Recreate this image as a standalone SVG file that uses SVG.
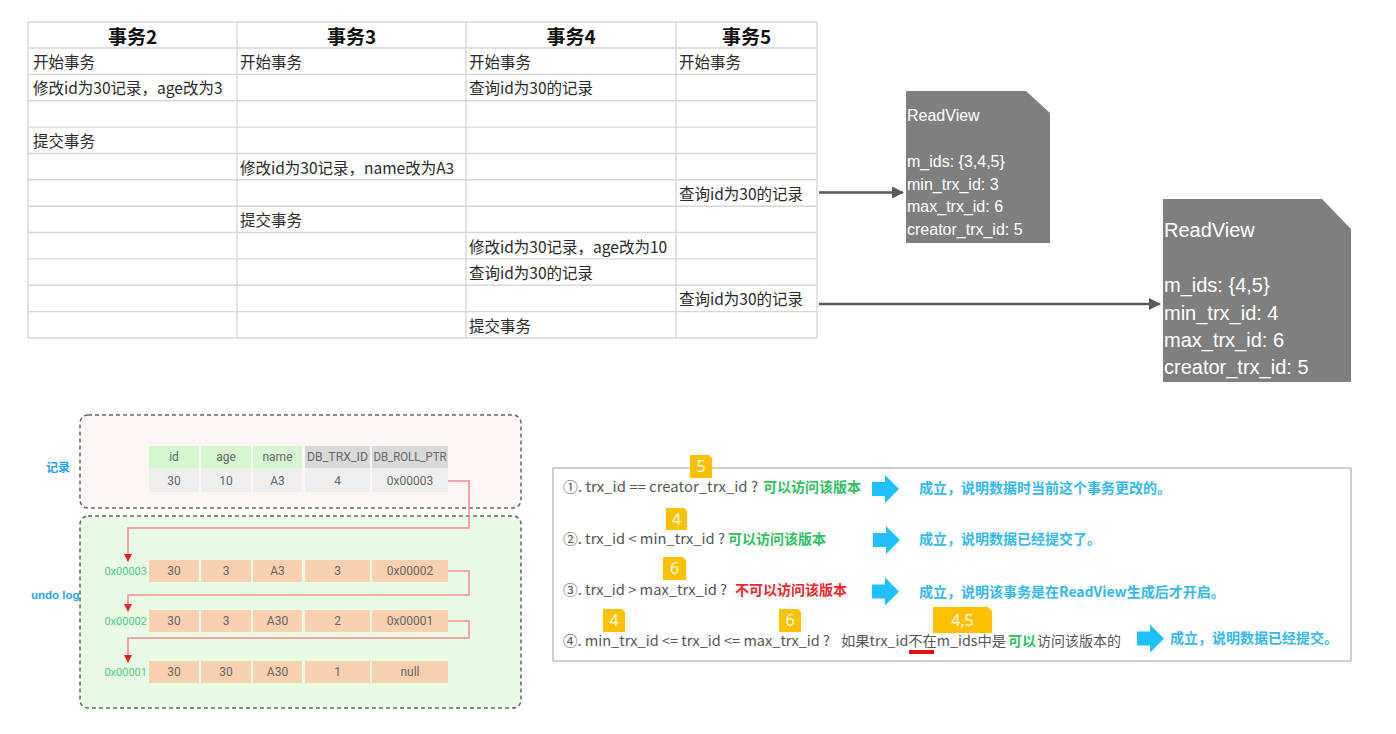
<svg xmlns="http://www.w3.org/2000/svg" width="1396" height="734" viewBox="0 0 1396 734">
<style>
.grid{stroke:#d6d6d6;stroke-width:1.4;fill:none}
.th{font-family:"Noto Sans CJK SC","Liberation Sans",sans-serif;font-size:19px;font-weight:bold;fill:#111;text-anchor:middle}
.td{font-family:"Noto Sans CJK SC","Liberation Sans",sans-serif;font-size:15.5px;fill:#2a2a2a}
.rv{fill:#7f7f7f}
.rvt{font-family:"Liberation Sans",sans-serif;fill:#fff}
.dash{stroke:#666;stroke-width:1.5;stroke-dasharray:4 3}
.cell{font-family:"Roboto","Liberation Sans",sans-serif;font-size:12px;fill:#666;text-anchor:middle}
.addr{font-family:"Roboto","Liberation Sans",sans-serif;font-size:11px;fill:#4ccf7e;text-anchor:end}
.lbl{font-family:"Liberation Sans","Noto Sans CJK SC",sans-serif;font-weight:bold;fill:#1ea4ef}
.hg{fill:#d6f6d0}.hx{fill:#d9d9d9}.rd{fill:#efefef}.ud{fill:#f9d0b0}
.ptr{stroke:#f28b8b;stroke-width:1.5;fill:none}
.rule{font-family:"Noto Sans CJK SC","Open Sans",sans-serif;font-size:14px;fill:#555}
.ok{fill:#2fbf5f;font-weight:bold}
.no{fill:#f0262a;font-weight:bold}
.res{font-family:"Noto Sans CJK SC","Open Sans",sans-serif;font-size:14px;fill:#33b8f2;font-weight:bold}
.barrow{fill:#1ec0ff}
.badge{fill:#ffc000}
.bt{font-family:"Open Sans","Liberation Sans",sans-serif;font-size:16px;fill:#fff;text-anchor:middle}
.conn{stroke:#595959;stroke-width:2.5;fill:none}
</style>
<defs>
<marker id="ah" markerUnits="userSpaceOnUse" markerWidth="12" markerHeight="12" refX="11" refY="6" orient="auto">
<path d="M0,0 L12,6 L0,12 Z" fill="#595959"/>
</marker>
<marker id="rh" markerUnits="userSpaceOnUse" markerWidth="8" markerHeight="8" refX="7" refY="4" orient="auto">
<path d="M0,0 L8,4 L0,8 Z" fill="#e8262a"/>
</marker>
</defs>
<rect width="1396" height="734" fill="#fff"/>

<g id="table">
<path class="grid" d="M28,22H817M28,48H817M28,74.4H817M28,100.7H817M28,127.1H817M28,153.5H817M28,179.8H817M28,206.2H817M28,232.5H817M28,258.9H817M28,285.3H817M28,311.6H817M28,338H817M28,22V338M237,22V338M466,22V338M676,22V338M817,22V338"/>
<text class="th" x="132.5" y="44">事务2</text>
<text class="th" x="351.5" y="44">事务3</text>
<text class="th" x="571" y="44">事务4</text>
<text class="th" x="746.5" y="44">事务5</text>
<text class="td" x="33" y="68">开始事务</text>
<text class="td" x="240" y="68">开始事务</text>
<text class="td" x="469" y="68">开始事务</text>
<text class="td" x="679" y="68">开始事务</text>
<text class="td" x="33" y="94.4">修改id为30记录，age改为3</text>
<text class="td" x="469" y="94.4">查询id为30的记录</text>
<text class="td" x="33" y="147.1">提交事务</text>
<text class="td" x="240" y="173.5">修改id为30记录，name改为A3</text>
<text class="td" x="679" y="199.8">查询id为30的记录</text>
<text class="td" x="240" y="226.2">提交事务</text>
<text class="td" x="469" y="252.5">修改id为30记录，age改为10</text>
<text class="td" x="469" y="278.9">查询id为30的记录</text>
<text class="td" x="679" y="305.3">查询id为30的记录</text>
<text class="td" x="469" y="331.6">提交事务</text>
</g>

<g id="readview1">
<path class="rv" d="M906,91H1026L1050,113V243H906Z"/>
<text class="rvt" font-size="16" x="907" y="121">ReadView</text>
<text class="rvt" font-size="16" x="907" y="167">m_ids: {3,4,5}</text>
<text class="rvt" font-size="16" x="907" y="189.5">min_trx_id: 3</text>
<text class="rvt" font-size="16" x="907" y="212">max_trx_id: 6</text>
<text class="rvt" font-size="16" x="907" y="234.5">creator_trx_id: 5</text>
</g>

<g id="readview2">
<path class="rv" d="M1163,199H1322L1351,229V382H1163Z"/>
<text class="rvt" font-size="20" x="1164" y="237">ReadView</text>
<text class="rvt" font-size="20" x="1164" y="292">m_ids: {4,5}</text>
<text class="rvt" font-size="20" x="1164" y="319.5">min_trx_id: 4</text>
<text class="rvt" font-size="20" x="1164" y="347">max_trx_id: 6</text>
<text class="rvt" font-size="20" x="1164" y="374">creator_trx_id: 5</text>
</g>

<g id="record">
<rect class="dash" x="80" y="415" width="441" height="93" rx="8" fill="#fcf7f4"/>
<text class="lbl" font-size="12" x="46" y="472">记录</text>
<rect class="hg" x="149" y="446" width="50" height="22"/>
<rect class="hg" x="201" y="446" width="50" height="22"/>
<rect class="hg" x="253" y="446" width="49" height="22"/>
<rect class="hx" x="305" y="446" width="65" height="22"/>
<rect class="hx" x="372" y="446" width="76" height="22"/>
<rect class="rd" x="149" y="468" width="50" height="24"/>
<rect class="rd" x="201" y="468" width="50" height="24"/>
<rect class="rd" x="253" y="468" width="49" height="24"/>
<rect class="rd" x="305" y="468" width="65" height="24"/>
<rect class="rd" x="372" y="468" width="76" height="24"/>
<text class="cell" x="174" y="461">id</text>
<text class="cell" x="226" y="461">age</text>
<text class="cell" x="277.5" y="461">name</text>
<text class="cell" x="337.5" y="461" font-size="11" textLength="61" lengthAdjust="spacingAndGlyphs">DB_TRX_ID</text>
<text class="cell" x="410" y="461" font-size="11" textLength="73" lengthAdjust="spacingAndGlyphs">DB_ROLL_PTR</text>
<text class="cell" x="174" y="485">30</text>
<text class="cell" x="226" y="485">10</text>
<text class="cell" x="277.5" y="485">A3</text>
<text class="cell" x="337.5" y="485">4</text>
<text class="cell" x="410" y="485">0x00003</text>
</g>

<g id="undolog">
<rect class="dash" x="80" y="516" width="441" height="192" rx="8" fill="#e9fbe5"/>
<text class="lbl" font-size="11.5" x="31" y="599">undo log</text>
<text class="addr" x="147" y="575">0x00003</text>
<text class="addr" x="147" y="625">0x00002</text>
<text class="addr" x="147" y="676">0x00001</text>
<rect class="ud" x="149" y="560" width="50" height="22"/>
<rect class="ud" x="201" y="560" width="50" height="22"/>
<rect class="ud" x="253" y="560" width="49" height="22"/>
<rect class="ud" x="305" y="560" width="65" height="22"/>
<rect class="ud" x="372" y="560" width="76" height="22"/>
<rect class="ud" x="149" y="610" width="50" height="22"/>
<rect class="ud" x="201" y="610" width="50" height="22"/>
<rect class="ud" x="253" y="610" width="49" height="22"/>
<rect class="ud" x="305" y="610" width="65" height="22"/>
<rect class="ud" x="372" y="610" width="76" height="22"/>
<rect class="ud" x="149" y="661" width="50" height="22"/>
<rect class="ud" x="201" y="661" width="50" height="22"/>
<rect class="ud" x="253" y="661" width="49" height="22"/>
<rect class="ud" x="305" y="661" width="65" height="22"/>
<rect class="ud" x="372" y="661" width="76" height="22"/>
<text class="cell" x="174" y="575">30</text>
<text class="cell" x="226" y="575">3</text>
<text class="cell" x="277.5" y="575">A3</text>
<text class="cell" x="337.5" y="575">3</text>
<text class="cell" x="410" y="575">0x00002</text>
<text class="cell" x="174" y="625">30</text>
<text class="cell" x="226" y="625">3</text>
<text class="cell" x="277.5" y="625">A30</text>
<text class="cell" x="337.5" y="625">2</text>
<text class="cell" x="410" y="625">0x00001</text>
<text class="cell" x="174" y="676">30</text>
<text class="cell" x="226" y="676">30</text>
<text class="cell" x="277.5" y="676">A30</text>
<text class="cell" x="337.5" y="676">1</text>
<text class="cell" x="410" y="676">null</text>
</g>

<g id="rules">
<rect x="553" y="468" width="798" height="193" fill="#fff" stroke="#c0c0c0" stroke-width="1.5"/>
<text class="rule" x="563" y="491.5" textLength="195" lengthAdjust="spacingAndGlyphs">①. trx_id  == creator_trx_id ?</text>
<text class="rule ok" x="763" y="491.5">可以访问该版本</text>
<text class="rule" x="563" y="543.5" textLength="162" lengthAdjust="spacingAndGlyphs">②. trx_id &lt; min_trx_id ?</text>
<text class="rule ok" x="728" y="543.5">可以访问该版本</text>
<text class="rule" x="563" y="594.5" textLength="164" lengthAdjust="spacingAndGlyphs">③. trx_id &gt; max_trx_id ?</text>
<text class="rule no" x="735" y="594.5">不可以访问该版本</text>
<text class="rule" x="563" y="645.5" textLength="267" lengthAdjust="spacingAndGlyphs">④. min_trx_id &lt;= trx_id &lt;= max_trx_id ?</text>
<text class="rule" x="841" y="645.5" textLength="165" lengthAdjust="spacingAndGlyphs">如果trx_id不在m_ids中是</text>
<text class="rule ok" x="1008" y="645.5">可以</text>
<text class="rule" x="1037" y="645.5">访问该版本的</text>
<rect x="909" y="650" width="25" height="4" fill="#e81010"/>
<path class="barrow" d="M872,482H885V475L899,489L885,503V496H872Z"/>
<path class="barrow" d="M873,533H886V526L900,540L886,554V547H873Z"/>
<path class="barrow" d="M872,584.5H885V577.5L899,591.5L885,605.5V598.5H872Z"/>
<path class="barrow" d="M1137,631.5H1150V624.5L1164,638.5L1150,652.5V645.5H1137Z"/>
<text class="res" x="919" y="493">成立，说明数据时当前这个事务更改的。</text>
<text class="res" x="919" y="544">成立，说明数据已经提交了。</text>
<text class="res" x="919" y="597">成立，说明该事务是在ReadView生成后才开启。</text>
<text class="res" x="1170" y="643">成立，说明数据已经提交。</text>
</g>

<g id="badges">
<path class="badge" d="M690,455H709L712,458V478H690Z"/>
<text class="bt" x="701" y="472">5</text>
<path class="badge" d="M666,508H684L687,511V530H666Z"/>
<text class="bt" x="676.5" y="524.5">4</text>
<path class="badge" d="M663,557H683L686,560V580H663Z"/>
<text class="bt" x="674.5" y="574">6</text>
<path class="badge" d="M603,609H622L625,612V632H603Z"/>
<text class="bt" x="614" y="626">4</text>
<path class="badge" d="M779,609H798L801,612V632H779Z"/>
<text class="bt" x="790" y="626">6</text>
<path class="badge" d="M933,607H988L992,611V633H933Z"/>
<text class="bt" x="962.5" y="626" font-size="17">4,5</text>
</g>

<g id="connectors">
<path class="conn" d="M819,192.5H903" marker-end="url(#ah)"/>
<path class="conn" d="M819,304H1160" marker-end="url(#ah)"/>
<path class="ptr" d="M448,481H469V528H128V561" marker-end="url(#rh)"/>
<path class="ptr" d="M448,571H469V595H128V611" marker-end="url(#rh)"/>
<path class="ptr" d="M448,621H469V638H128V662" marker-end="url(#rh)"/>
</g>
</svg>
